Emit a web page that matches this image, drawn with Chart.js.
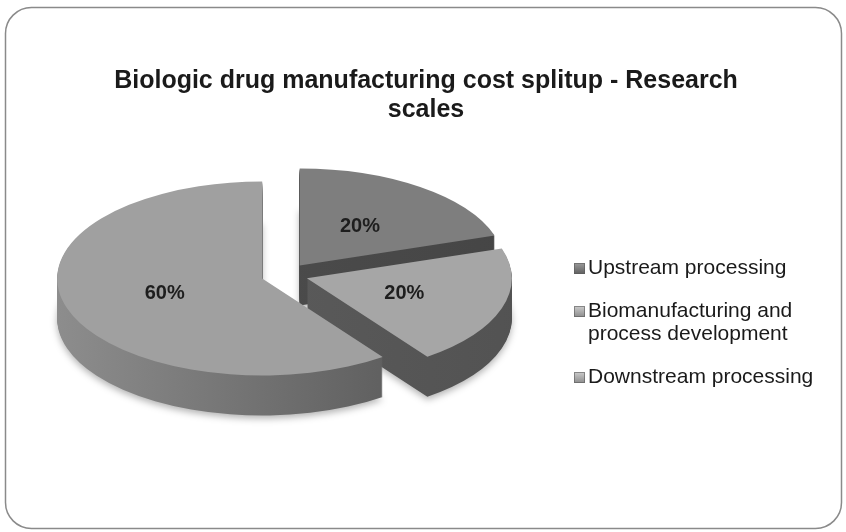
<!DOCTYPE html>
<html lang="en">
<head>
<meta charset="utf-8">
<title>Biologic drug manufacturing cost splitup</title>
<script src="https://cdn.jsdelivr.net/npm/chart.js@4.4.1/dist/chart.umd.min.js"></script>
<style>
    html, body { margin: 0; padding: 0; background: #ffffff; }
    #chartBox { width: 846px; height: 532px; }
</style>
</head>
<body>
<div id="chartBox"><canvas id="costChart" width="846" height="532"></canvas></div>
<script>
// Cost split data
const categories = ['Upstream processing', 'Biomanufacturing and process development', 'Downstream processing'];
const legendLines = [['Upstream processing'], ['Biomanufacturing and', 'process development'], ['Downstream processing']];
const costShare = [20, 20, 60];
const titleLines = ['Biologic drug manufacturing cost splitup - Research', 'scales'];

// Grey shades: top faces, walls (left -> right) and legend swatches
const topColors = ['#7e7e7e', '#a6a6a6', '#a0a0a0'];
const wallColors = [['#4f4f4f', '#454545'], ['#5e5e5e', '#525252'], ['#909090', '#585858']];
const markerColors = [['#a0a0a0', '#5e5e5e'], ['#d2d2d2', '#8c8c8c'], ['#d2d2d2', '#8c8c8c']];

const FONT = '"Liberation Sans", Arial, sans-serif';

// Chart.js draws the pie round; here it gets squashed and a wall added underneath
const pie3d = {
    id: 'pie3d',
    beforeDatasetsDraw(chart, args, opts) {
        const ctx = chart.ctx;
        const arcs = chart.getDatasetMeta(0).data;
        const area = chart.chartArea;
        const cy = (area.top + area.bottom) / 2;
        const k = opts.tilt;

        const shiftOf = (arc, i) => {
            const mid = (arc.startAngle + arc.endAngle) / 2;
            return { dx: Math.cos(mid) * opts.explode[i], dy: Math.sin(mid) * opts.explode[i] };
        };
        const drawWith = (arc, fill) => {
            const saved = arc.options;
            arc.options = Object.assign({}, saved, { backgroundColor: fill, borderWidth: 0 });
            arc.draw(ctx);
            arc.options = saved;
        };

        ctx.save();
        ctx.translate(0, cy);
        ctx.scale(1, k);
        ctx.translate(0, -cy);

        // walls, back slices first so the front ones cover them
        opts.wallOrder.forEach(i => {
            const arc = arcs[i];
            const s = shiftOf(arc, i);
            const left = arc.x + s.dx - arc.outerRadius;
            const g = ctx.createLinearGradient(left, 0, left + arc.outerRadius * 2, 0);
            g.addColorStop(0, opts.wallColors[i][0]);
            g.addColorStop(1, opts.wallColors[i][1]);
            for (let d = opts.depth; d >= 1; d--) {
                ctx.save();
                if (d === opts.depth) {
                    ctx.shadowColor = 'rgba(0,0,0,0.3)';
                    ctx.shadowBlur = 7;
                    ctx.shadowOffsetY = 3;
                }
                ctx.translate(s.dx, s.dy + d / k);
                drawWith(arc, g);
                ctx.restore();
            }
        });

        // top faces
        arcs.forEach((arc, i) => {
            const s = shiftOf(arc, i);
            ctx.save();
            ctx.translate(s.dx, s.dy);
            arc.draw(ctx);
            ctx.restore();
        });
        ctx.restore();

        // percentage labels in the middle of each top face
        const total = costShare.reduce((a, b) => a + b, 0);
        ctx.save();
        ctx.font = 'bold 20px ' + FONT;
        ctx.fillStyle = '#1e1e1e';
        ctx.textAlign = 'center';
        ctx.textBaseline = 'middle';
        arcs.forEach((arc, i) => {
            const s = shiftOf(arc, i);
            const p = arc.getCenterPoint();
            const y = cy + (p.y + s.dy - cy) * k;
            ctx.fillText(Math.round(costShare[i] / total * 100) + '%', p.x + s.dx, y);
        });
        ctx.restore();
        return false;
    }
};

// rounded frame, title and the legend on the right
const frameAndText = {
    id: 'frameAndText',
    beforeDraw(chart) {
        const ctx = chart.ctx;
        ctx.save();
        ctx.fillStyle = '#ffffff';
        ctx.fillRect(0, 0, chart.width, chart.height);
        ctx.beginPath();
        ctx.roundRect(5.5, 7.5, 836, 521, 26);
        ctx.strokeStyle = '#8a8a8a';
        ctx.lineWidth = 1.5;
        ctx.stroke();
        ctx.restore();
    },
    afterDraw(chart) {
        const ctx = chart.ctx;
        ctx.save();
        ctx.fillStyle = '#1a1a1a';
        ctx.textAlign = 'center';
        ctx.textBaseline = 'alphabetic';
        ctx.font = 'bold 25px ' + FONT;
        titleLines.forEach((t, i) => ctx.fillText(t, 426, 88 + i * 29));

        ctx.font = '21px ' + FONT;
        ctx.textAlign = 'left';
        ctx.textBaseline = 'middle';
        let y = 268;
        legendLines.forEach((lines, i) => {
            const g = ctx.createLinearGradient(0, y - 6, 0, y + 6);
            g.addColorStop(0, markerColors[i][0]);
            g.addColorStop(1, markerColors[i][1]);
            ctx.fillStyle = g;
            ctx.fillRect(574, y - 5, 11, 11);
            ctx.strokeStyle = 'rgba(90,90,90,0.6)';
            ctx.lineWidth = 1;
            ctx.strokeRect(574.5, y - 4.5, 10, 10);
            ctx.fillStyle = '#1a1a1a';
            lines.forEach((line, j) => ctx.fillText(line, 588, y + j * 23));
            y += lines.length * 23 + 20;
        });
        ctx.restore();
    }
};

new Chart(document.getElementById('costChart'), {
    type: 'pie',
    data: {
        labels: categories,
        datasets: [{
            data: costShare,
            backgroundColor: topColors,
            borderWidth: 0,
            radius: 205
        }]
    },
    options: {
        responsive: false,
        animation: false,
        events: [],
        layout: { padding: { top: 18, right: 276, bottom: 0, left: 0 } },
        plugins: {
            legend: { display: false },
            tooltip: { enabled: false },
            title: { display: false },
            pie3d: {
                tilt: 0.473,
                depth: 40,
                explode: [25, 23, 24],
                wallOrder: [0, 1, 2],
                wallColors: wallColors
            }
        }
    },
    plugins: [pie3d, frameAndText]
});
</script>
</body>
</html>
